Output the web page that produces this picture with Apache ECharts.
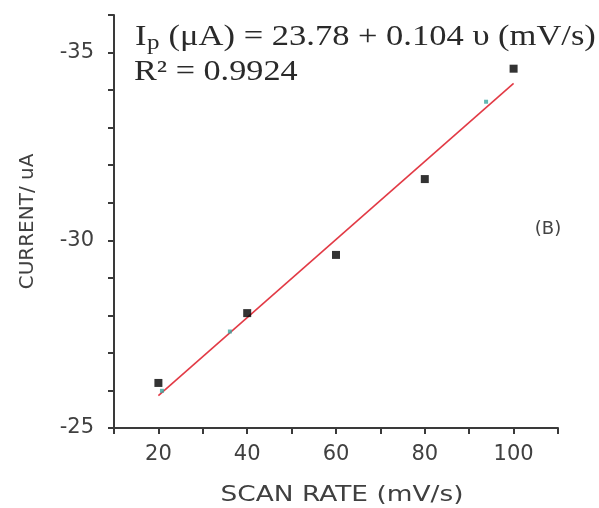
<!DOCTYPE html>
<html>
<head>
<meta charset="utf-8">
<script src="https://cdn.jsdelivr.net/npm/echarts@6/dist/echarts.min.js"></script>
<style>
  html, body { margin: 0; padding: 0; background: #fff; }
  #chart { width: 599px; height: 508px; }
</style>
</head>
<body>
<div id="chart"></div>
<script>
// Measured peak current vs scan rate
const scanRates = [20, 40, 60, 80, 100];
const currents = [-26.2, -28.06, -29.61, -31.63, -34.57];

// Linear fit endpoints: Ip = 23.78 + 0.104 v
const fitRates = [20, 100];
const fitCurrents = [-25.86, -34.18];

// Small markers sitting on the fit line
const lineMarkRates = [20.8, 36.1, 93.8];
const lineMarkCurrents = [-25.99, -27.57, -33.69];

// Axis settings
const xTicks = { min: 10, max: 110, step: 10, labelEvery: 20 };
const yTicks = { min: -36, max: -25, step: 1, labelEvery: 5 };

const equationText = ' (\u03BCA) = 23.78 + 0.104 \u03C5 (mV/s)';
const r2Text = 'R\u00B2 = 0.9924';
const panelLabel = '(B)';
const xTitle = 'SCAN RATE (mV/s)';
const yTitle = 'CURRENT/ uA';

const axisColor = '#3a3a3a';
const labelColor = '#404040';
const sans = 'DejaVu Sans';
const serif = 'Liberation Serif';

const chart = echarts.init(document.getElementById('chart'), null, { renderer: 'canvas' });

chart.setOption({
  backgroundColor: '#ffffff',
  animation: false,
  grid: { left: 114, right: 41, top: 15, bottom: 80, containLabel: false },
  xAxis: {
    type: 'value',
    min: xTicks.min,
    max: xTicks.max,
    interval: xTicks.step,
    splitLine: { show: false },
    axisLine: { show: true, lineStyle: { color: axisColor, width: 2 } },
    axisTick: { show: true, inside: false, length: 6, lineStyle: { color: axisColor, width: 2 } },
    axisLabel: {
      margin: 16,
      color: labelColor,
      fontFamily: sans,
      fontSize: 21,
      formatter: v => (v % xTicks.labelEvery === 0 && v >= 20 && v <= 100) ? String(v) : ''
    }
  },
  yAxis: {
    type: 'value',
    inverse: true,
    min: yTicks.min,
    max: yTicks.max,
    interval: yTicks.step,
    splitLine: { show: false },
    axisLine: { show: true, lineStyle: { color: axisColor, width: 2 } },
    axisTick: { show: true, inside: false, length: 6, lineStyle: { color: axisColor, width: 2 } },
    axisLabel: {
      margin: 20,
      color: labelColor,
      fontFamily: sans,
      fontSize: 21,
      formatter: v => (Math.round(v) % yTicks.labelEvery === 0) ? String(v) : ''
    },
    name: yTitle,
    nameLocation: 'middle',
    nameGap: 76,
    nameRotate: 90,
    nameTextStyle: { color: labelColor, fontFamily: sans, fontSize: 20 }
  },
  series: [
    {
      type: 'line',
      data: fitRates.map((x, i) => [x, fitCurrents[i]]),
      symbol: 'none',
      lineStyle: { color: '#e23a45', width: 1.6 },
      z: 2
    },
    {
      type: 'scatter',
      data: lineMarkRates.map((x, i) => [x, lineMarkCurrents[i]]),
      symbol: 'rect',
      symbolSize: 4,
      itemStyle: { color: '#3aa6a0' },
      z: 3
    },
    {
      type: 'scatter',
      data: scanRates.map((x, i) => [x, currents[i]]),
      symbol: 'rect',
      symbolSize: 8,
      itemStyle: { color: '#000000' },
      z: 4
    }
  ],
  graphic: [
    {
      type: 'group',
      x: 135,
      y: 37,
      scaleX: 1.19,
      children: [
        { type: 'text', x: 0, y: 0, style: { text: 'I', font: '29px "' + serif + '"', fill: '#2a2a2a', verticalAlign: 'middle' } },
        { type: 'text', x: 10, y: 6, style: { text: 'p', font: '21px "' + serif + '"', fill: '#2a2a2a', verticalAlign: 'middle' } },
        { type: 'text', x: 21, y: 0, style: { text: equationText, font: '29px "' + serif + '"', fill: '#2a2a2a', verticalAlign: 'middle' } }
      ]
    },
    {
      type: 'group',
      x: 134,
      y: 72,
      scaleX: 1.18,
      children: [
        { type: 'text', x: 0, y: 0, style: { text: r2Text, font: '29px "' + serif + '"', fill: '#2a2a2a', verticalAlign: 'middle' } }
      ]
    },
    {
      type: 'text',
      x: 548,
      y: 229,
      style: { text: panelLabel, font: '18px "' + sans + '"', fill: '#444444', align: 'center', verticalAlign: 'middle' }
    },
    {
      type: 'group',
      x: 342,
      y: 495,
      scaleX: 1.2,
      children: [
        { type: 'text', x: 0, y: 0, style: { text: xTitle, font: '22px "' + sans + '"', fill: labelColor, align: 'center', verticalAlign: 'middle' } }
      ]
    }
  ]
});
</script>
</body>
</html>
